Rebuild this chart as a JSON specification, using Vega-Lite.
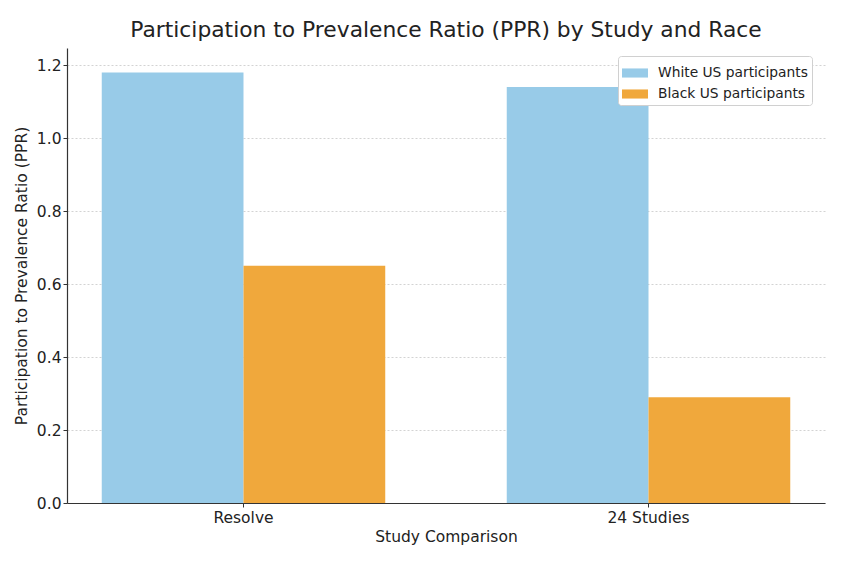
{
  "$schema": "https://vega.github.io/schema/vega-lite/v6.json",
  "autosize": "none",
  "width": 758,
  "height": 455,
  "padding": {"left": 67, "top": 48, "right": 39, "bottom": 62},
  "background": "white",
  "config": {
    "font": "DejaVu Sans",
    "view": {"stroke": null},
    "axis": {"labelFont": "DejaVu Sans", "titleFont": "DejaVu Sans", "labelColor": "#222", "titleColor": "#222", "titleFontWeight": "normal", "domainColor": "#333", "tickColor": "#333"}
  },
  "title": {"text": "Participation to Prevalence Ratio (PPR) by Study and Race", "fontSize": 21.8, "fontWeight": "normal", "font": "DejaVu Sans", "color": "#222", "offset": 6},
  "data": {"values": [
    {"study": "Resolve", "race": "White US participants", "ppr": 1.18},
    {"study": "Resolve", "race": "Black US participants", "ppr": 0.65},
    {"study": "24 Studies", "race": "White US participants", "ppr": 1.14},
    {"study": "24 Studies", "race": "Black US participants", "ppr": 0.29}
  ]},
  "mark": {"type": "bar"},
  "encoding": {
    "x": {"field": "study", "type": "nominal", "sort": ["Resolve", "24 Studies"],
      "scale": {"paddingInner": 0.3, "paddingOuter": 0.0858},
      "axis": {"title": "Study Comparison", "labelAngle": 0, "labelFontSize": 15.5, "titleFontSize": 15.5, "tickSize": 4, "labelPadding": 3, "titlePadding": 4, "domainWidth": 1.2}},
    "xOffset": {"field": "race", "type": "nominal", "sort": ["White US participants", "Black US participants"], "scale": {"paddingInner": 0, "paddingOuter": 0}},
    "y": {"field": "ppr", "type": "quantitative",
      "scale": {"domain": [0, 1.247], "nice": false},
      "axis": {"title": "Participation to Prevalence Ratio (PPR)", "values": [0, 0.2, 0.4, 0.6, 0.8, 1.0, 1.2], "format": ".1f", "labelFontSize": 15.5, "titleFontSize": 15.5, "tickSize": 4, "labelPadding": 2, "titlePadding": 7, "grid": true, "gridDash": [2, 2], "gridColor": "#c8c8c8", "gridWidth": 0.8, "domainWidth": 1.2}},
    "color": {"field": "race", "type": "nominal", "sort": ["White US participants", "Black US participants"],
      "scale": {"domain": ["White US participants", "Black US participants"], "range": ["#98CBE8", "#F0A83C"]},
      "legend": {"title": null, "orient": "none", "legendX": 551, "legendY": 8, "labelFontSize": 13.8, "labelFont": "DejaVu Sans", "labelColor": "#222",
        "symbolType": "M-1,-0.35L1,-0.35L1,0.35L-1,0.35Z", "symbolSize": 676, "symbolStrokeWidth": 0, "symbolOpacity": 1,
        "strokeColor": "#d0d0d0", "fillColor": "white", "padding": 4, "cornerRadius": 3, "rowPadding": 1, "labelOffset": 10}}
  }
}
